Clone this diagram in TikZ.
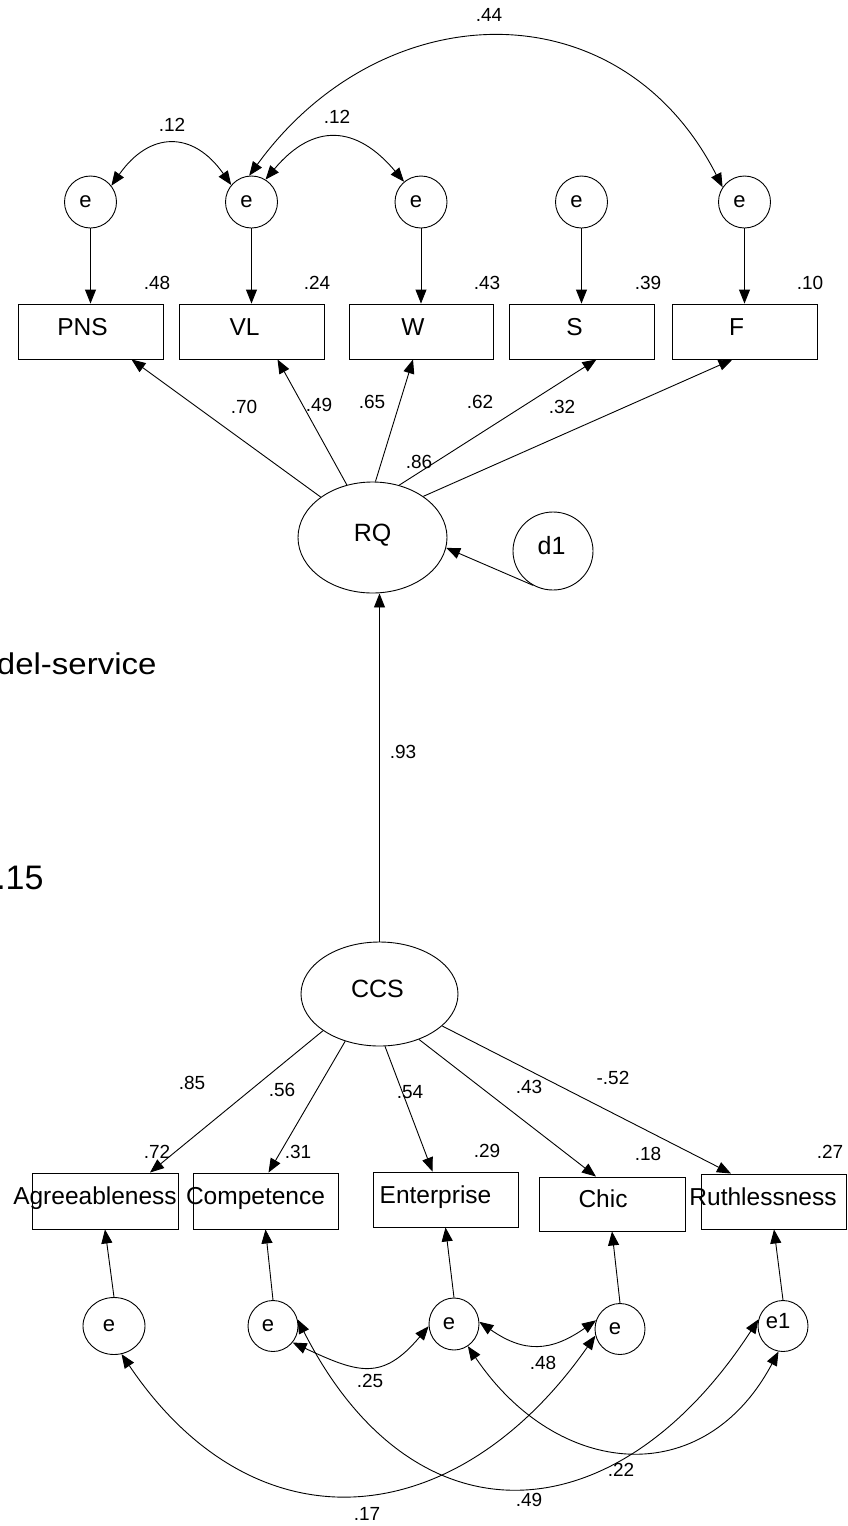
\documentclass[tikz,border=0pt]{standalone}
\usepackage{fontspec}
\setmainfont{Liberation Sans}
\usetikzlibrary{shapes.geometric,arrows.meta,calc}

\newcommand\boxfont{\fontsize{24.5}{24.5}\selectfont}
\newcommand\latfont{\fontsize{25}{25}\selectfont}
\newcommand\errfont{\fontsize{22}{22}\selectfont}
\newcommand\coeffont{\fontsize{19}{19}\selectfont}
\newcommand\slidefont{\fontsize{30}{30}\selectfont}
\newcommand\slidebigfont{\fontsize{34}{34}\selectfont}

\begin{document}
\begin{tikzpicture}[x=1pt,y=1pt,
  line width=0.9pt,
  >={Triangle[length=14pt,width=11pt]},
  arr/.style={draw,->},
  cov/.style={draw,<->},
  obs/.style={draw,rectangle,minimum width=145pt,minimum height=55pt,inner sep=0pt},
  errc/.style={draw,ellipse,inner sep=0pt},
  latent/.style={draw,ellipse,inner sep=0pt},
  boxlbl/.style={inner sep=0pt,font=\boxfont,text height=0.716em,text depth=0pt},
  latlbl/.style={inner sep=0pt,font=\latfont,text height=0.716em,text depth=0pt},
  errlbl/.style={inner sep=0pt,font=\errfont},
  coef/.style={inner sep=0pt,font=\coeffont,text height=0.716em,text depth=0pt},
]
\useasboundingbox (0,0) rectangle (847,-1526);
\fill[white] (0,0) rectangle (847,-1526);

% slide text behind the model
\node[anchor=east,inner sep=0pt,xscale=1.1,font=\slidefont,text height=0.716em,text depth=0pt] (slideA) at (157,-671) {del-service};
\node[anchor=east,inner sep=0pt,font=\slidebigfont,text height=0.716em,text depth=0pt] (slideB) at (44,-885.5) {.15};

% ---------- upper measurement model ----------
\node[errc,minimum width=52pt,minimum height=52pt] (eP) at (90.5,-202) {};
\node[errc,minimum width=52pt,minimum height=52pt] (eV) at (251.5,-202) {};
\node[errc,minimum width=52pt,minimum height=52pt] (eW) at (421,-202) {};
\node[errc,minimum width=52pt,minimum height=52pt] (eS) at (581.5,-202) {};
\node[errc,minimum width=52pt,minimum height=52pt] (eF) at (744.5,-202) {};
\foreach \n in {eP,eV,eW,eS,eF}
  \node[errlbl] (t\n) at ([xshift=-5pt]\n.center) {e};

\node[obs] (PNS) at (90.5,-331.5) {};
\node[obs] (VL) at (251.5,-331.5) {};
\node[obs,minimum width=144pt] (W) at (421,-331.5) {};
\node[obs] (S) at (581.5,-331.5) {};
\node[obs] (F) at (744.5,-331.5) {};
\node[boxlbl] (tPNS) at ([xshift=-8pt]PNS.center) {PNS};
\node[boxlbl] (tVL) at ([xshift=-7pt]VL.center) {VL};
\node[boxlbl] (tW) at ([xshift=-8pt]W.center) {W};
\node[boxlbl] (tS) at ([xshift=-7pt]S.center) {S};
\node[boxlbl] (tF) at ([xshift=-8pt]F.center) {F};

\foreach \a/\b in {eP/PNS,eV/VL,eW/W,eS/S,eF/F}
  \draw[arr] (\a.south) -- (\b.north);

\draw[cov] (eP.38) to[out=55,in=125,looseness=1.42] (eV.140);
\draw[cov] (eV.58) to[out=50,in=130,looseness=1.37] (eW.130);
\draw[cov] (eV.95) to[out=54,in=117,looseness=1.22] (eF.146);

% ---------- latent variables ----------
\node[latent,minimum width=149pt,minimum height=111pt] (RQ) at (372.5,-537.5) {};
\node[latlbl] (tRQ) at (RQ.center) {RQ};
\node[latent,minimum width=80pt,minimum height=78pt] (d1) at (553,-551) {};
\node[latlbl] (td1) at ([xshift=-1.5pt]d1.center) {d1};
\node[latent,minimum width=157pt,minimum height=104pt] (CCS) at (379.5,-994) {};
\node[latlbl] (tCCS) at ([xshift=-2pt]CCS.center) {CCS};

\draw[arr] (d1.240) -- (RQ.-8);
\draw[arr] (CCS.north) -- (CCS.north |- RQ.south);

\draw[arr] (RQ.142) -- ([xshift=41pt]PNS.south);
\draw[arr] (RQ.116) -- ([xshift=26pt]VL.south);
\draw[arr] (RQ.87) -- ([xshift=-8pt]W.south);
\draw[arr] (RQ.63) -- ([xshift=15pt]S.south);
\draw[arr] (RQ.39) -- ([xshift=-12pt]F.south);

% ---------- lower measurement model ----------
\node[obs,minimum width=146pt,minimum height=56pt] (Agree) at (105,-1201) {};
\node[obs,minimum height=56pt] (Compet) at (265.5,-1201) {};
\node[obs] (Enter) at (445.5,-1199.5) {};
\node[obs,minimum width=146pt,minimum height=54pt] (Chic) at (612,-1204) {};
\node[obs] (Ruth) at (774,-1201.5) {};
\node[boxlbl] (tAgree) at ([xshift=-10pt]Agree.center) {Agreeableness};
\node[boxlbl] (tCompet) at ([xshift=-10pt]Compet.center) {Competence};
\node[boxlbl] (tEnter) at ([xshift=-10pt]Enter.center) {Enterprise};
\node[boxlbl] (tChic) at ([xshift=-9pt]Chic.center) {Chic};
\node[boxlbl] (tRuth) at ([xshift=-11pt]Ruth.center) {Ruthlessness};

\draw[arr] (CCS.213) -- ([xshift=45pt]Agree.north);
\draw[arr] (CCS.234) -- ([xshift=3pt]Compet.north);
\draw[arr] (CCS.276) -- ([xshift=-13pt]Enter.north);
\draw[arr] (CCS.311) -- ([xshift=-16pt]Chic.north);
\draw[arr] (CCS.333) -- ([xshift=-43pt]Ruth.north);

\node[errc,minimum width=62pt,minimum height=57pt] (eA) at (114,-1326) {};
\node[errc,minimum width=50pt,minimum height=51pt] (eC) at (273,-1326) {};
\node[errc,minimum width=50pt,minimum height=52pt] (eE) at (454,-1324) {};
\node[errc,minimum width=50pt,minimum height=51pt] (eCh) at (620,-1329) {};
\node[errc,minimum width=50pt,minimum height=51pt] (e1) at (783,-1326) {};
\foreach \n in {eA,eC,eE,eCh}
  \node[errlbl] (t\n) at ([xshift=-5pt]\n.center) {e};
\node[errlbl,text height=0.52em] (te1) at ([xshift=-5pt]e1.center) {e1};

\foreach \a/\b in {eA/Agree,eC/Compet,eE/Enter,eCh/Chic,e1/Ruth}
  \draw[arr] (\a.north) -- (\b.south);

\draw[cov] (eC.-40) to[out=-25,in=230,looseness=1.35] (eE.185);
\draw[cov] (eE.5) to[out=-35,in=215,looseness=1.2] (eCh.160);
\draw[cov] (eA.-75) to[out=-56,in=235,looseness=1.3] (eCh.195);
\draw[cov] (eC.15) to[out=-63,in=237,looseness=1.44] (e1.165);
\draw[cov] (eE.-58) to[out=-56,in=242,looseness=1.31] (e1.-100);

% ---------- estimates ----------
\foreach \x/\y/\t [count=\i] in {
  489/18/.44, 172/128/.12, 337/120/.12,
  157/286/.48, 317/286/.24, 487/286/.43, 648/286/.39, 810/286/.10,
  244/410/.70, 319/408/.49, 372/405/.65, 480/405/.62, 562/410/.32, 419/465/.86,
  403/755/.93,
  192/1086/.85, 282/1093/.56, 410/1095/.54, 529/1090/.43, 613/1081/-.52,
  157/1155/.72, 298/1155/.31, 487/1154/.29, 648/1157/.18, 830/1155/.27,
  370/1384/.25, 543/1366/.48, 367/1517/.17, 529/1503/.49, 621/1473/.22}
  \node[coef] (k\i) at (\x,-\y) {\t};
\end{tikzpicture}
\end{document}
